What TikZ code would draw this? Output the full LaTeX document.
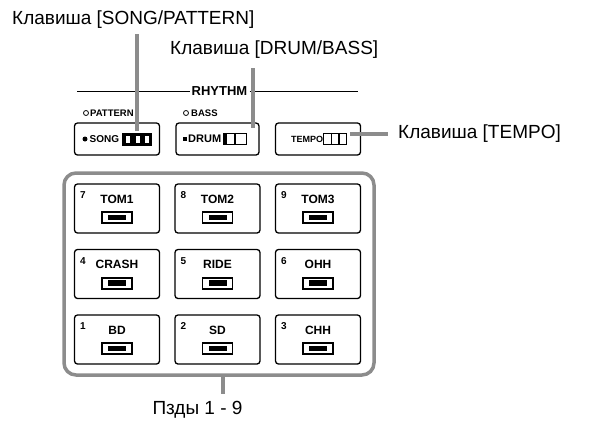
\documentclass[tikz,border=0pt]{standalone}
\usepackage{fontspec}
\setmainfont{Liberation Sans}
\definecolor{lgray}{HTML}{8C8C8C}
\begin{document}
\begin{tikzpicture}[x=1pt,y=-1pt,
  lbl/.style={font=\fontsize{19}{22}\selectfont, inner sep=0pt, anchor=west},
  conn/.style={lgray, line width=3.5pt},
  btn/.style={draw, line width=1.3pt, rounded corners=3pt, minimum width=85pt, minimum height=32pt, inner sep=0pt},
  pad/.style={btn, minimum height=49pt},
  frame/.style={draw=lgray, line width=3.5pt, rounded corners=12pt, minimum width=310pt, minimum height=202pt, inner sep=0pt},
  padname/.style={font=\fontsize{12}{12}\selectfont\bfseries, inner sep=0pt},
  padnum/.style={font=\fontsize{10}{10}\selectfont\bfseries, inner sep=0pt},
  small/.style={font=\fontsize{9.5}{9.5}\selectfont\bfseries, inner sep=0pt, anchor=west},
  cell/.style={draw, line width=1.8pt, minimum width=30pt, minimum height=11pt, inner sep=0pt},
  dispcell/.style={fill=white, minimum width=4pt, minimum height=7pt, inner sep=0pt},
]
\useasboundingbox (0,0) rectangle (591,426);

% labels
\node[lbl] (t1) at (12,20) {Клавиша [SONG/PATTERN]};
\node[lbl] (t2) at (170,50) {Клавиша [DRUM/BASS]};
\node[lbl] (t3) at (398,134) {Клавиша [TEMPO]};

% RHYTHM header
\node[font=\fontsize{13}{13}\selectfont\bfseries, inner sep=2pt] (rhythm) at (219.5,91) {RHYTHM};
\coordinate (hl) at (77,91);
\coordinate (hr) at (358,91);
\draw[line width=1pt] (hl) -- (rhythm.west);
\draw[line width=1pt] (rhythm.east) -- (hr);

\node[draw, circle, line width=0.8pt, inner sep=0pt, minimum size=5pt] (ledp) at (86,113) {};
\node[small] (pattern) at (90,113) {PATTERN};
\node[draw, circle, line width=0.8pt, inner sep=0pt, minimum size=5pt] (ledb) at (186,113) {};
\node[small] (bass) at (191,113) {BASS};

% top buttons
\node[btn] (b1) at (117,139) {};
\node[btn, minimum width=83pt] (b2) at (217.5,139) {};
\node[btn] (b3) at (318,139) {};

% button 1: SONG
\node[fill=black, circle, inner sep=0pt, minimum size=5pt] (dot1) at (85,139) {};
\node[small, font=\fontsize{10}{10}\selectfont\bfseries] (song) at (89.5,139) {SONG};
\node[fill=black, minimum width=30pt, minimum height=13pt, inner sep=0pt] (d1) at (137,139) {};
\node[dispcell] at (128,139) {};
\node[dispcell] at (137.5,139) {};
\node[dispcell] at (147,139) {};

% button 2: DRUM
\node[fill=black, inner sep=0pt, minimum size=4pt] (dot2) at (185,139) {};
\node[small, font=\fontsize{11}{11}\selectfont\bfseries] (drum) at (188,139) {DRUM};
\node[draw, line width=1.4pt, minimum width=23pt, minimum height=11pt, inner sep=0pt] (d2) at (235,139) {};
\draw[line width=1.4pt] (d2.north) -- (d2.south);
\fill (d2.north west) rectangle ([xshift=4pt]d2.south west);

% button 3: TEMPO
\node[small, font=\fontsize{9}{9}\selectfont\bfseries] (tempo) at (291,139) {TEMPO};
\node[draw, line width=1.4pt, minimum width=23pt, minimum height=11pt, inner sep=0pt] (d3) at (335,139) {};
\draw[line width=1.4pt] ([xshift=-3.8pt]d3.north) -- ([xshift=-3.8pt]d3.south);
\draw[line width=1.4pt] ([xshift=3.8pt]d3.north) -- ([xshift=3.8pt]d3.south);

% frame around pads
\node[frame] (frame) at (219,274) {};

% pads
\foreach \n/\lab/\cx/\cy in {7/TOM1/117/208.5, 8/TOM2/217.5/208.5, 9/TOM3/318/208.5,
  4/CRASH/117/274, 5/RIDE/217.5/274, 6/OHH/318/274,
  1/BD/117/339.5, 2/SD/217.5/339.5, 3/CHH/318/339.5}{
  \node[pad] (pad\n) at (\cx,\cy) {};
  \node[padnum] (num\n) at ([xshift=9pt,yshift=-12pt]pad\n.north west) {\n};
  \node[padname] (name\n) at ([yshift=-16pt]pad\n.north) {\lab};
  \node[cell] (cell\n) at ([yshift=-34.5pt]pad\n.north) {};
  \fill ([xshift=-9pt,yshift=-2.5pt]cell\n.center) rectangle ([xshift=9pt,yshift=3pt]cell\n.center);
}

% connectors
\coordinate (c1top) at (137,34);
\coordinate (c1) at (137,131);
\draw[conn] (c1top) -- (c1);
\coordinate (c2top) at (253,68);
\coordinate (c2) at (253,128);
\draw[conn] (c2top) -- (c2);
\coordinate (c3) at (350,134);
\draw[conn] (c3) -- ([xshift=-10pt]t3.west);

\node[lbl, anchor=center] (pads) at (197.5,410) {Пзды 1 - 9};
\coordinate (tickend) at (223,394);
\draw[conn] (frame.south -| tickend) -- (tickend);
\end{tikzpicture}
\end{document}
